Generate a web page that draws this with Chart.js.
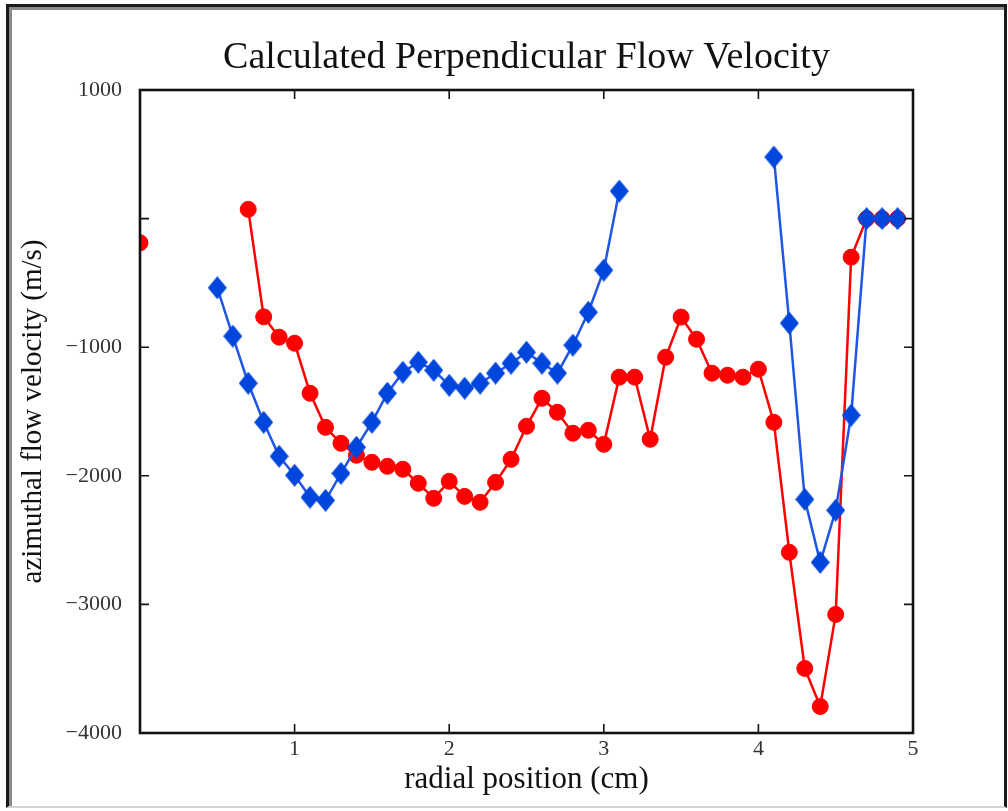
<!DOCTYPE html>
<html>
<head>
<meta charset="utf-8">
<script src="https://cdn.jsdelivr.net/npm/chart.js@4/dist/chart.umd.min.js"></script>
<style>
  html, body { margin: 0; padding: 0; background: #ffffff; }
  #wrap { position: absolute; left: 0; top: 0; width: 1008px; height: 811px; }
  #plot { position: absolute; left: 0; top: 0; }
  #frame {
    position: absolute; left: 6px; top: 4px; width: 1001px; height: 804px;
    box-sizing: border-box;
    border-top: 3px solid #1a1a1a; border-left: 3px solid #1a1a1a; border-right: 3px solid #1a1a1a;
    border-bottom: 2px solid #d4d4d4;
    box-shadow: inset 3px 3px 0 #8a8a8a;
    pointer-events: none;
  }
</style>
</head>
<body>
<div id="wrap">
  <canvas id="plot" width="1008" height="811"></canvas>
  <div id="frame"></div>
</div>
<script>
// radial positions (cm)
const radialPositions = [
  0.0, 0.1, 0.2, 0.3, 0.4, 0.5, 0.6, 0.7, 0.8, 0.9,
  1.0, 1.1, 1.2, 1.3, 1.4, 1.5, 1.6, 1.7, 1.8, 1.9,
  2.0, 2.1, 2.2, 2.3, 2.4, 2.5, 2.6, 2.7, 2.8, 2.9,
  3.0, 3.1, 3.2, 3.3, 3.4, 3.5, 3.6, 3.7, 3.8, 3.9,
  4.0, 4.1, 4.2, 4.3, 4.4, 4.5, 4.6, 4.7, 4.8, 4.9
];

// azimuthal flow velocity (m/s), red circles
const velocityRed = [
  -188, null, null, null, null, null, null, 72, -764, -922,
  -969, -1358, -1623, -1747, -1840, -1895, -1926, -1949, -2058, -2175,
  -2043, -2160, -2206, -2051, -1872, -1615, -1397, -1506, -1669, -1646,
  -1755, -1233, -1233, -1716, -1078, -766, -938, -1202, -1218, -1233,
  -1171, -1584, -2595, -3498, -3794, -3078, -300, 0, 0, 0
];

// azimuthal flow velocity (m/s), blue diamonds
const velocityBlue = [
  null, null, null, null, null, -538, -914, -1280, -1584, -1848,
  -1996, -2167, -2191, -1981, -1778, -1584, -1358, -1195, -1117, -1179,
  -1296, -1319, -1280, -1202, -1125, -1039, -1125, -1202, -984, -728,
  -401, 214, null, null, null, null, null, null, null, null,
  null, 479, -813, -2183, -2673, -2268, -1529, 0, 0, 0
];

const xTickValues = [0, 1, 2, 3, 4, 5];
const yTickValues = [-4000, -3000, -2000, -1000, 0, 1000];

const RED = '#ff0000';
const BLUE = '#0046dc';
const BLUE_LINE = '#1f56e4';
const SERIF = '"Liberation Serif", "Times New Roman", serif';

// tall diamond marker
function makeDiamond(w, h, color) {
  const c = document.createElement('canvas');
  c.width = w; c.height = h;
  const g = c.getContext('2d');
  g.fillStyle = color;
  g.beginPath();
  g.moveTo(w / 2, 0);
  g.lineTo(w, h / 2);
  g.lineTo(w / 2, h);
  g.lineTo(0, h / 2);
  g.closePath();
  g.fill();
  return c;
}
const diamond = makeDiamond(19, 23, BLUE);

function pairs(xs, ys) {
  return xs.map((x, i) => ({ x: x, y: ys[i] }));
}

function fmtMinus(v) {
  return v < 0 ? '\u2212' + Math.abs(v) : String(v);
}

// axes box with inward ticks on all four sides
const axesBox = {
  id: 'axesBox',
  afterDatasetsDraw(chart) {
    const { ctx, chartArea: a, scales } = chart;
    const len = 9;
    ctx.save();
    ctx.strokeStyle = '#111111';
    ctx.lineWidth = 1.6;
    ctx.beginPath();
    xTickValues.forEach(v => {
      const px = scales.x.getPixelForValue(v);
      ctx.moveTo(px, a.bottom); ctx.lineTo(px, a.bottom - len);
      ctx.moveTo(px, a.top); ctx.lineTo(px, a.top + len);
    });
    yTickValues.forEach(v => {
      const py = scales.y.getPixelForValue(v);
      ctx.moveTo(a.left, py); ctx.lineTo(a.left + len, py);
      ctx.moveTo(a.right, py); ctx.lineTo(a.right - len, py);
    });
    ctx.stroke();
    ctx.lineWidth = 2.6;
    ctx.strokeRect(a.left, a.top, a.right - a.left, a.bottom - a.top);
    ctx.restore();
  }
};

new Chart(document.getElementById('plot'), {
  type: 'line',
  data: {
    datasets: [
      {
        label: 'blue',
        data: pairs(radialPositions, velocityBlue),
        borderColor: BLUE_LINE,
        borderWidth: 2.5,
        pointStyle: diamond,
        pointBackgroundColor: BLUE,
        pointBorderColor: BLUE,
        spanGaps: false,
        clip: 0,
        tension: 0
      },
      {
        label: 'red',
        data: pairs(radialPositions, velocityRed),
        borderColor: RED,
        borderWidth: 2.5,
        pointStyle: 'circle',
        pointRadius: 8,
        pointBackgroundColor: RED,
        pointBorderColor: RED,
        pointBorderWidth: 1,
        spanGaps: false,
        clip: 0,
        tension: 0
      }
    ]
  },
  options: {
    responsive: false,
    animation: false,
    layout: { padding: { left: 0, right: 95, top: 0, bottom: 0 } },
    plugins: {
      legend: { display: false },
      tooltip: { enabled: false },
      title: {
        display: true,
        fullSize: false,
        text: 'Calculated Perpendicular Flow Velocity',
        color: '#111111',
        font: { family: SERIF, size: 38, weight: 'normal' },
        padding: { top: 35, bottom: 9.4 }
      }
    },
    scales: {
      x: {
        type: 'linear',
        min: 0,
        max: 5,
        afterBuildTicks(scale) { scale.ticks = xTickValues.map(v => ({ value: v })); },
        afterFit(scale) { scale.height = 78; },
        grid: { display: false, drawTicks: false },
        border: { display: false },
        ticks: {
          color: '#333333',
          padding: 3,
          font: { family: SERIF, size: 22 },
          maxRotation: 0,
          callback: v => (v === 0 ? '' : String(v))
        },
        title: {
          display: true,
          text: 'radial position (cm)',
          color: '#111111',
          font: { family: SERIF, size: 31 },
          padding: { top: 0, bottom: 13 }
        }
      },
      y: {
        type: 'linear',
        min: -4000,
        max: 1000,
        afterBuildTicks(scale) { scale.ticks = yTickValues.map(v => ({ value: v })); },
        afterFit(scale) { scale.width = 140; },
        grid: { display: false, drawTicks: false },
        border: { display: false },
        ticks: {
          color: '#333333',
          padding: 18,
          font: { family: SERIF, size: 22 },
          callback: v => (v === 0 ? '' : fmtMinus(v))
        },
        title: {
          display: true,
          text: 'azimuthal flow velocity (m/s)',
          color: '#111111',
          font: { family: SERIF, size: 29 },
          padding: { top: 15.6, bottom: 0 }
        }
      }
    }
  },
  plugins: [axesBox]
});
</script>
</body>
</html>
